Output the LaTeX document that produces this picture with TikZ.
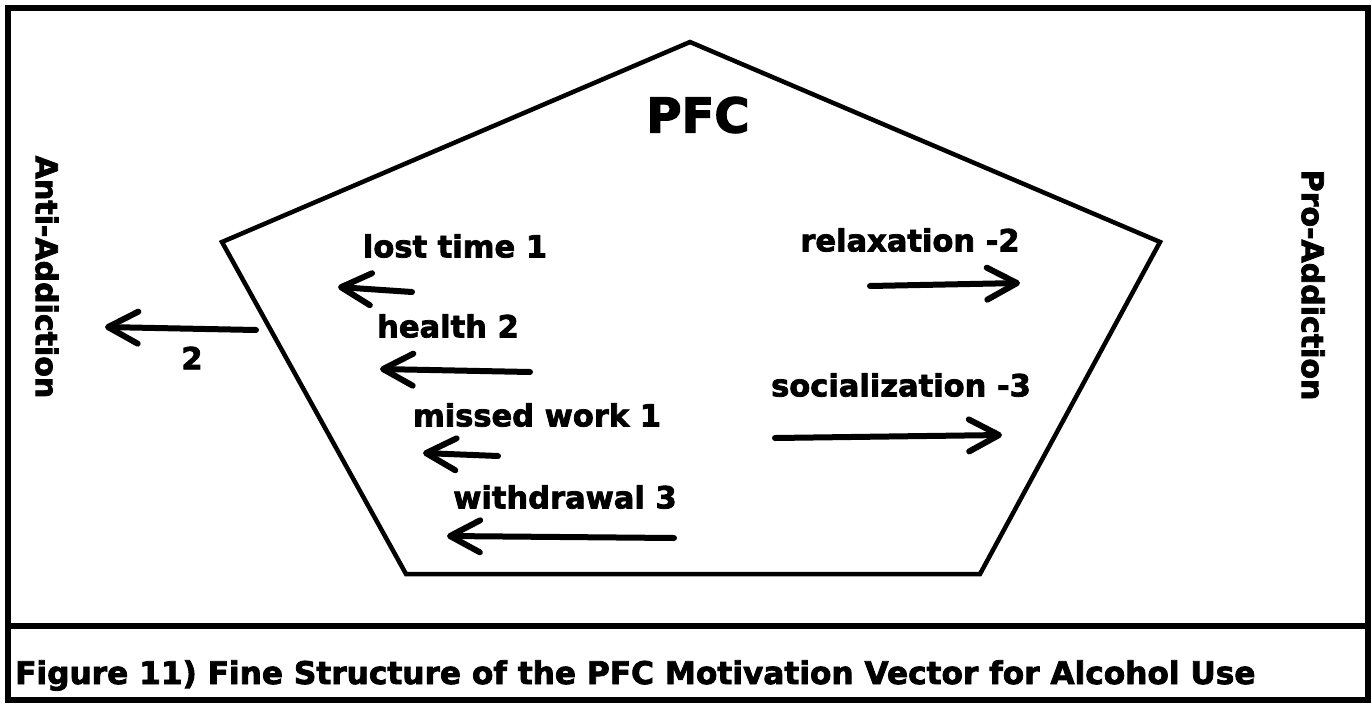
\documentclass[tikz,border=0pt]{standalone}
\usepackage{fontspec}
\setmainfont{DejaVu Sans}[BoldFeatures={FakeBold=2.5}]
\usetikzlibrary{arrows.meta}
\begin{document}
\begin{tikzpicture}[x=1pt,y=-1pt,
  lbl/.style={font=\fontsize{30.5}{33}\selectfont\bfseries, inner sep=0pt},
  side/.style={font=\fontsize{30}{33}\selectfont\bfseries, inner sep=0pt, rotate=-90},
  vec/.style={line width=6pt, line cap=round, -{Straight Barb[length=30pt,width=32pt,round]}},
  frame/.style={line width=6pt},
  pent/.style={line width=4.5pt, line join=miter},
]
\useasboundingbox (0,0) rectangle (1372,704);
% frame
\draw[frame] (8,8) rectangle (1368,700);
\draw[frame] (8,626) -- (1368,626);
% pentagon
\coordinate (pt) at (690,42);
\coordinate (pr) at (1160,242);
\coordinate (pbr) at (980,574);
\coordinate (pbl) at (406,574);
\coordinate (pl) at (222,242);
\draw[pent] (pt) -- (pr) -- (pbr) -- (pbl) -- (pl) -- cycle;
% texts
\node[lbl, font=\fontsize{48}{52}\selectfont\bfseries] (pfc) at (698,115) {PFC};
\node[lbl] (lost) at (455,246) {lost time 1};
\node[lbl] (relax) at (910,240) {relaxation -2};
\node[lbl] (health) at (448,326) {health 2};
\node[lbl] (social) at (901,385) {socialization -3};
\node[lbl] (missed) at (537,415) {missed work 1};
\node[lbl] (withdr) at (565,497) {withdrawal 3};
\node[lbl] (two) at (192,358) {2};
\node[side] (anti) at (47,277) {Anti-Addiction};
\node[side] (pro) at (1313,285) {Pro-Addiction};
\node[lbl, anchor=base west, font=\fontsize{31.2}{33}\selectfont\bfseries] (cap) at (15,684) {Figure 11) Fine Structure of the PFC Motivation Vector for Alcohol Use};
% arrows
\coordinate (a1s) at (412,292); \coordinate (a1e) at (338,287);
\coordinate (a2s) at (530,372); \coordinate (a2e) at (380,369);
\coordinate (a3s) at (498,456); \coordinate (a3e) at (423,453);
\coordinate (a4s) at (674,538); \coordinate (a4e) at (447,536);
\coordinate (a5s) at (870,286); \coordinate (a5e) at (1020,283);
\coordinate (a6s) at (775,438); \coordinate (a6e) at (1002,435);
\coordinate (a7s) at (256,330); \coordinate (a7e) at (105,327);
\draw[vec] (a1s) -- (a1e);
\draw[vec] (a2s) -- (a2e);
\draw[vec] (a3s) -- (a3e);
\draw[vec] (a4s) -- (a4e);
\draw[vec] (a5s) -- (a5e);
\draw[vec] (a6s) -- (a6e);
\draw[vec] (a7s) -- (a7e);
\end{tikzpicture}
\end{document}
